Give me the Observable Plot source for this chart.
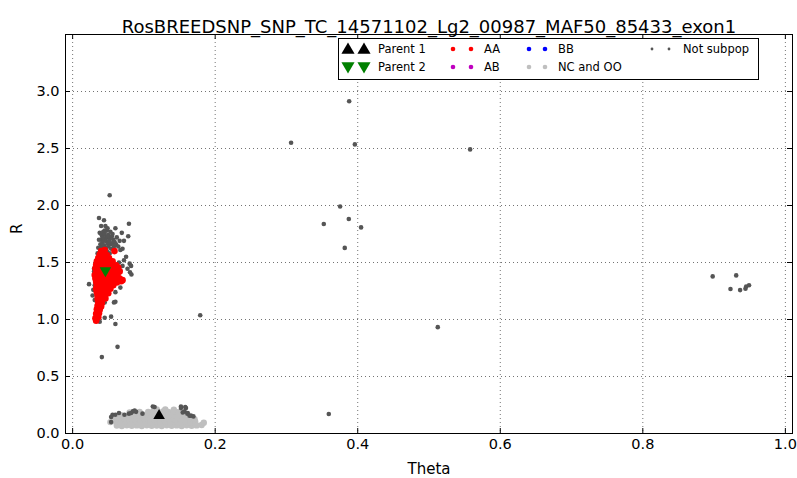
<!DOCTYPE html>
<html><head><meta charset="utf-8">
<script src="https://cdn.jsdelivr.net/npm/d3@7"></script>
<script src="https://cdn.jsdelivr.net/npm/@observablehq/plot@0.6"></script>
<style>
body{margin:0;background:#fff;color:#000;font-family:"DejaVu Sans",sans-serif;}
#wrap{position:relative;width:797px;height:478px;}
#legend{position:absolute;left:0;top:0;pointer-events:none;}
</style></head><body><div id="wrap"></div>
<script>
const title = "RosBREEDSNP_SNP_TC_14571102_Lg2_00987_MAF50_85433_exon1";
const xLabel = "Theta";
const yLabel = "R";
const xTicks = [0, 0.2, 0.4, 0.6, 0.8, 1.0];
const yTicks = [0, 0.5, 1.0, 1.5, 2.0, 2.5, 3.0];

// [theta, R]
const parent1 = [[0.1213, 0.156]];
const parent2 = [[0.046, 1.43]];
const ab = [];
const bb = [];

const aa = [
  [0.040,1.60],[0.045,1.61],[0.0587,1.60],
  [0.038,1.57],[0.043,1.575],[0.048,1.565],
  [0.036,1.54],[0.041,1.545],[0.046,1.535],[0.051,1.54],
  [0.034,1.51],[0.039,1.505],[0.044,1.515],[0.050,1.50],[0.056,1.51],
  [0.033,1.48],[0.038,1.475],[0.043,1.485],[0.049,1.47],[0.055,1.48],[0.061,1.475],
  [0.032,1.45],[0.037,1.445],[0.042,1.455],[0.053,1.45],[0.058,1.445],[0.064,1.455],
  [0.033,1.42],[0.038,1.415],[0.043,1.425],[0.048,1.41],[0.054,1.42],[0.060,1.415],[0.066,1.42],
  [0.031,1.39],[0.036,1.385],[0.041,1.395],[0.046,1.38],[0.052,1.39],[0.058,1.385],[0.063,1.39],
  [0.032,1.36],[0.037,1.355],[0.042,1.365],[0.047,1.35],[0.053,1.36],[0.060,1.355],[0.066,1.36],[0.070,1.345],
  [0.033,1.33],[0.038,1.325],[0.043,1.335],[0.049,1.32],[0.055,1.33],[0.062,1.325],[0.068,1.335],
  [0.034,1.30],[0.039,1.295],[0.044,1.305],[0.050,1.29],[0.057,1.30],
  [0.033,1.27],[0.038,1.265],[0.043,1.275],[0.048,1.26],[0.053,1.27],
  [0.034,1.24],[0.039,1.235],[0.044,1.245],[0.050,1.23],
  [0.035,1.21],[0.040,1.205],[0.045,1.215],
  [0.035,1.18],[0.040,1.175],[0.046,1.185],
  [0.036,1.15],[0.041,1.145],
  [0.035,1.12],[0.040,1.115],
  [0.034,1.09],[0.038,1.085],
  [0.033,1.05],[0.037,1.055],
  [0.032,1.01],[0.036,1.02],[0.033,0.99]
];

const ncoo = [
  [0.062,0.07],[0.069,0.065],[0.076,0.072],[0.083,0.068],[0.090,0.071],[0.097,0.066],[0.104,0.073],[0.111,0.067],[0.118,0.070],
  [0.125,0.066],[0.132,0.072],[0.139,0.068],[0.146,0.071],[0.153,0.066],[0.160,0.072],[0.167,0.068],[0.174,0.071],[0.181,0.075],
  [0.053,0.10],[0.060,0.105],[0.067,0.098],[0.074,0.103],[0.081,0.097],[0.088,0.104],[0.095,0.099],[0.102,0.102],[0.109,0.097],
  [0.116,0.104],[0.123,0.098],[0.130,0.103],[0.137,0.097],[0.144,0.104],[0.151,0.099],[0.158,0.102],[0.165,0.097],[0.172,0.103],[0.184,0.095],
  [0.058,0.13],[0.066,0.135],[0.073,0.128],[0.080,0.133],[0.087,0.127],[0.094,0.134],[0.101,0.129],[0.108,0.132],[0.115,0.127],
  [0.122,0.134],[0.129,0.128],[0.136,0.133],[0.143,0.127],[0.150,0.134],[0.157,0.129],[0.164,0.131],[0.171,0.126],
  [0.068,0.16],[0.076,0.155],[0.084,0.162],[0.092,0.157],[0.100,0.163],[0.108,0.158],[0.115,0.164],[0.122,0.157],
  [0.129,0.163],[0.136,0.158],[0.143,0.162],[0.150,0.156],[0.157,0.161],[0.165,0.155],
  [0.080,0.185],[0.094,0.19],[0.106,0.188],[0.113,0.193],[0.120,0.187],[0.127,0.194],[0.134,0.188],[0.141,0.192],[0.148,0.186],
  [0.118,0.21],[0.130,0.212],[0.142,0.208]
];

const notSubpop = [
  // outliers
  [0.388,2.914],[0.3065,2.55],[0.396,2.536],[0.5577,2.492],[0.3753,1.991],[0.3875,1.881],[0.3524,1.838],
  [0.4047,1.808],[0.3818,1.628],[0.5123,0.933],[0.3594,0.171],[0.179,1.037],
  [0.898,1.378],[0.931,1.387],[0.923,1.267],[0.9365,1.258],[0.944,1.27],[0.945,1.29],[0.949,1.30],
  // left cluster top
  [0.052,2.09],[0.037,1.89],[0.044,1.87],[0.040,1.82],[0.046,1.82],[0.048,1.78],[0.060,1.80],[0.079,1.84],
  [0.069,1.76],[0.072,1.69],[0.078,1.73],[0.066,1.69],[0.070,1.62],[0.067,1.61],
  [0.038,1.76],[0.041,1.74],[0.043,1.77],[0.045,1.75],[0.047,1.72],[0.050,1.74],[0.052,1.71],[0.055,1.73],[0.057,1.70],
  [0.040,1.70],[0.042,1.68],[0.044,1.71],[0.046,1.69],[0.049,1.67],[0.051,1.69],[0.053,1.66],[0.056,1.67],[0.059,1.68],
  [0.039,1.66],[0.041,1.64],[0.044,1.65],[0.047,1.63],[0.050,1.64],[0.054,1.62],[0.058,1.64],[0.061,1.66],
  [0.036,1.63],[0.043,1.61],[0.048,1.60],[0.052,1.58],[0.045,1.78],[0.049,1.80],[0.053,1.77],[0.042,1.72],
  [0.056,1.75],[0.062,1.72],[0.064,1.64],[0.037,1.70],[0.035,1.58],[0.034,1.52],
  // left cluster sides
  [0.080,1.49],[0.082,1.47],[0.070,1.47],[0.067,1.43],[0.0805,1.415],[0.0825,1.395],[0.077,1.445],[0.067,1.28],
  [0.072,1.52],[0.075,1.55],[0.065,1.50],
  [0.023,1.31],[0.031,1.30],[0.028,1.21],[0.031,1.17],[0.038,1.14],[0.045,1.15],[0.058,1.15],[0.060,1.155],
  [0.060,1.24],[0.045,1.015],[0.054,1.025],[0.038,0.98],[0.060,0.96],[0.063,0.76],[0.041,0.67],
  [0.032,1.36],[0.030,1.42],[0.033,1.48],[0.029,1.26],[0.030,1.445],[0.033,1.37],
  // bottom cluster
  [0.054,0.10],[0.060,0.165],[0.065,0.18],[0.079,0.174],[0.0845,0.194],[0.089,0.19],[0.115,0.232],[0.152,0.223],
  [0.159,0.223],[0.157,0.194],[0.161,0.174],[0.166,0.156],[0.098,0.174],[0.056,0.165],[0.054,0.145],[0.082,0.18],
  [0.087,0.202],[0.1125,0.237],[0.0727,0.165],[0.152,0.237],[0.158,0.232],[0.1545,0.185],[0.1615,0.18],
  [0.164,0.156],[0.1695,0.15]
];

const colors = {parent1: "#000000", parent2: "#008000", aa: "#ff0000", ab: "#bf00bf", bb: "#0000ff", ncoo: "#bfbfbf", notSubpop: "#555555"};

const triDown = {
  draw(ctx, size) {
    const y = Math.sqrt(size / (Math.sqrt(3) * 3));
    ctx.moveTo(0, 2 * y);
    ctx.lineTo(Math.sqrt(3) * y, -y);
    ctx.lineTo(-Math.sqrt(3) * y, -y);
    ctx.closePath();
  }
};

const W = 797, H = 478, mL = 65, mR = 5, mT = 34, mB = 45;
const frameW = W - mL - mR, frameH = H - mT - mB;
const fx = d => d[0], fy = d => d[1];

const chart = Plot.plot({
  width: W, height: H,
  marginLeft: mL, marginRight: mR, marginTop: mT, marginBottom: mB,
  style: {fontFamily: "DejaVu Sans", fontSize: "14.5px", background: "white", color: "black"},
  x: {domain: [-0.01, 1.01], ticks: xTicks, tickFormat: d3.format(".1f"), tickSize: 0, tickPadding: 5, label: null},
  y: {domain: [0, 3.5], ticks: yTicks, tickFormat: d3.format(".1f"), tickSize: 0, tickPadding: 6, label: null},
  marks: [
    Plot.ruleX(xTicks, {x: d => d, stroke: "#000", strokeOpacity: 0.55, strokeDasharray: "1,3"}),
    Plot.ruleY(yTicks, {y: d => d, stroke: "#000", strokeOpacity: 0.55, strokeDasharray: "1,3"}),
    Plot.tickX(xTicks, {x: d => d, insetTop: frameH - 5, stroke: "#000"}),
    Plot.tickX(xTicks, {x: d => d, insetBottom: frameH - 5, stroke: "#000"}),
    Plot.tickY(yTicks, {y: d => d, insetRight: frameW - 5, stroke: "#000"}),
    Plot.tickY(yTicks, {y: d => d, insetLeft: frameW - 5, stroke: "#000"}),
    Plot.dot(ncoo, {x: fx, y: fy, r: 3.2, fill: colors.ncoo}),
    Plot.dot(notSubpop, {x: fx, y: fy, r: 2.3, fill: colors.notSubpop}),
    Plot.dot(aa, {x: fx, y: fy, r: 3.3, fill: colors.aa}),
    Plot.dot(ab, {x: fx, y: fy, r: 3.3, fill: colors.ab}),
    Plot.dot(bb, {x: fx, y: fy, r: 3.3, fill: colors.bb}),
    Plot.dot(parent1, {x: fx, y: fy, r: 4.3, symbol: "triangle", fill: colors.parent1}),
    Plot.dot(parent2, {x: fx, y: fy, r: 4.3, symbol: triDown, fill: colors.parent2}),
    Plot.frame({stroke: "#000"}),
    Plot.text([title], {frameAnchor: "top", dy: -14, fontSize: 18, fill: "#000"}),
    Plot.text([xLabel], {frameAnchor: "bottom", dy: 40, fontSize: 15, fill: "#000"}),
    Plot.text([yLabel], {frameAnchor: "left", dx: -48, rotate: -90, fontSize: 15, fill: "#000"})
  ]
});
document.getElementById("wrap").appendChild(chart);

// legend overlay
const legendItems = [
  {label: "Parent 1", key: "parent1", shape: "up", col: 0, row: 0},
  {label: "Parent 2", key: "parent2", shape: "down", col: 0, row: 1},
  {label: "AA", key: "aa", shape: "dot", col: 1, row: 0},
  {label: "AB", key: "ab", shape: "dot", col: 1, row: 1},
  {label: "BB", key: "bb", shape: "dot", col: 2, row: 0},
  {label: "NC and OO", key: "ncoo", shape: "dot", col: 2, row: 1},
  {label: "Not subpop", key: "notSubpop", shape: "small", col: 3, row: 0}
];
const colMarkers = [[348, 364], [453, 471], [529, 545], [652, 669]];
const colText = [378, 484, 558, 683];
const rowY = [49, 67];
const lg = d3.create("svg").attr("id", "legend").attr("width", W).attr("height", H);
lg.append("rect").attr("x", 338.5).attr("y", 38.5).attr("width", 420).attr("height", 41)
  .attr("fill", "white").attr("stroke", "#000").attr("stroke-width", 1);
for (const it of legendItems) {
  const y = rowY[it.row];
  for (const mx of colMarkers[it.col]) {
    if (it.shape === "up") {
      lg.append("path").attr("d", d3.symbol(d3.symbolTriangle, 75)()).attr("transform", `translate(${mx},${y + 1})`).attr("fill", colors[it.key]);
    } else if (it.shape === "down") {
      lg.append("path").attr("d", d3.symbol(triDown, 75)()).attr("transform", `translate(${mx},${y - 1})`).attr("fill", colors[it.key]);
    } else {
      lg.append("circle").attr("cx", mx).attr("cy", y).attr("r", it.shape === "small" ? 1.4 : 2.3).attr("fill", colors[it.key]);
    }
  }
  lg.append("text").attr("x", colText[it.col]).attr("y", y).attr("dy", "0.35em")
    .attr("font-family", "DejaVu Sans").attr("font-size", 11.5).attr("fill", "#000").text(it.label);
}
document.getElementById("wrap").appendChild(lg.node());
</script></body></html>
